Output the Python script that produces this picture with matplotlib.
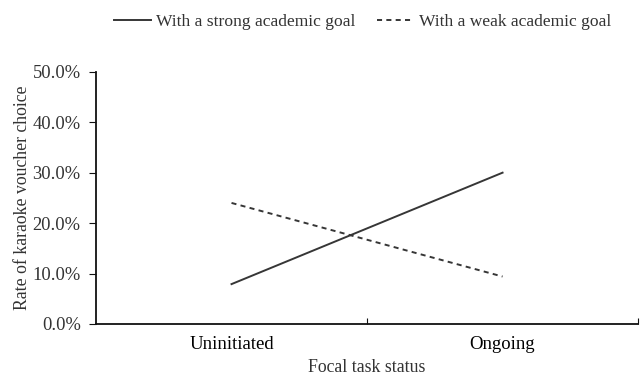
import matplotlib.pyplot as plt
from matplotlib.ticker import PercentFormatter

plt.rcParams['font.family'] = ['Liberation Serif', 'DejaVu Serif']

categories = ['Uninitiated', 'Ongoing']
strong_goal = [7.9, 30.0]
weak_goal = [24.0, 9.4]
y_ticks = [0, 10, 20, 30, 40, 50]

text_col = '#333333'
line_col = '#363636'

fig = plt.figure(figsize=(6.4, 3.78), dpi=100)
ax = fig.add_axes([0.15, 0.143, 0.847, 0.667])

x = list(range(len(categories)))
ax.plot(x, strong_goal, color=line_col, lw=1.4, label='With a strong academic goal')
ax.plot(x, weak_goal, color=line_col, lw=1.4, dashes=(2.6, 2.2), label='With a weak academic goal')

ax.set_xlim(-0.5, 1.5)
ax.set_ylim(0, 50)
ax.set_yticks(y_ticks)
ax.yaxis.set_major_formatter(PercentFormatter(decimals=1))
ax.set_xticks([0.5, 1.5])
ax.set_xticklabels([])
ax.set_xticks(x, minor=True)
ax.set_xticklabels(categories, minor=True)
ax.tick_params(axis='x', which='minor', length=0, pad=9, labelsize=13.5)
ax.tick_params(axis='x', which='major', length=4, direction='in', color='#111111')
ax.tick_params(axis='y', length=5, direction='out', color='#111111', pad=6, labelsize=13.3)
ax.tick_params(labelcolor=text_col)

for side in ['top', 'right']:
    ax.spines[side].set_visible(False)
for side in ['left', 'bottom']:
    ax.spines[side].set_linewidth(1.3)
    ax.spines[side].set_color('#111111')

ax.set_xlabel('Focal task status', fontsize=12.8, color=text_col, labelpad=4)
ax.set_ylabel('Rate of karaoke voucher choice', fontsize=12.8, color=text_col, labelpad=1)

fig.legend(loc='upper center', bbox_to_anchor=(0.567, 1.005), ncol=2, frameon=False,
           fontsize=12.6, handlelength=2.1, handletextpad=0.3, columnspacing=1.25,
           labelcolor=text_col)

fig.savefig('out.png', dpi=100)
